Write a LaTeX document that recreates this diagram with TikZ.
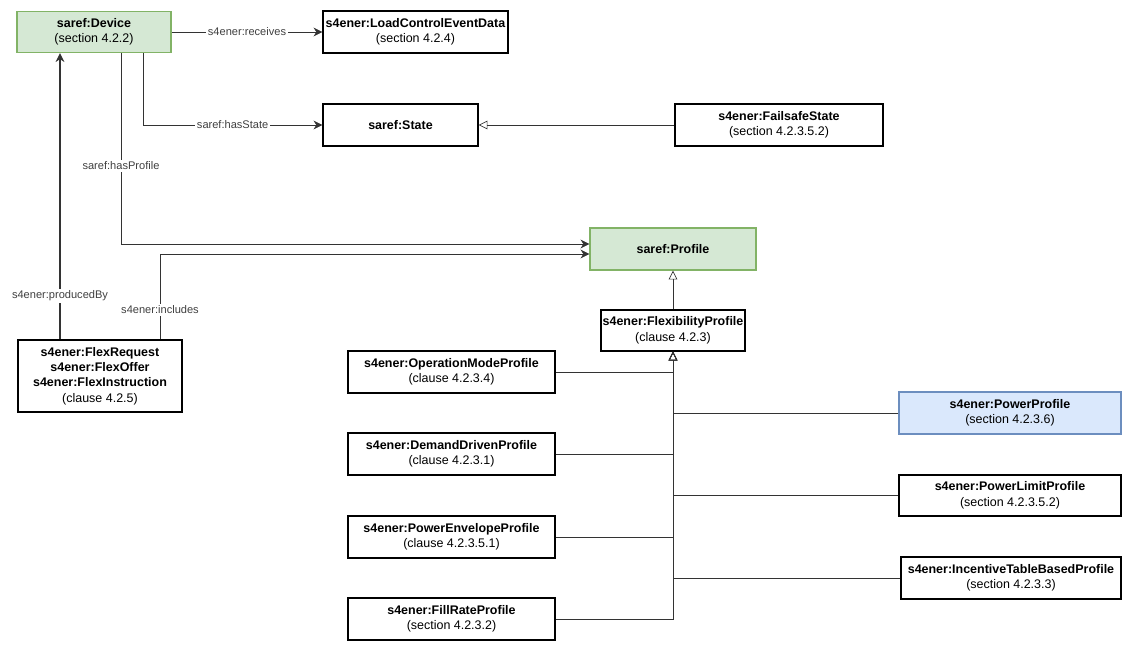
\documentclass[tikz,border=0pt]{standalone}
\usepackage{fontspec}
\setmainfont{Liberation Sans}
\usetikzlibrary{arrows.meta,positioning}
\definecolor{greenfill}{HTML}{D5E8D4}
\definecolor{greenline}{HTML}{82B366}
\definecolor{bluefill}{HTML}{DAE8FC}
\definecolor{blueline}{HTML}{6C8EBF}
\tikzset{
  cls/.style={draw, thick, fill=white, inner sep=1pt, align=center,
    font=\fontsize{7.1}{8.8}\selectfont},
  greencls/.style={cls, draw=greenline, fill=greenfill},
  bluecls/.style={cls, draw=blueline, fill=bluefill},
  assoc/.style={draw=black!80, -{Stealth[length=5pt,width=5pt]}},
  gen/.style={draw=black!80, -{Triangle[open,length=5pt,width=5pt]}},
  lbl/.style={fill=white, inner sep=1pt, text=black!75, font=\fontsize{6.3}{7.5}\selectfont},
}
\begin{document}
\begin{tikzpicture}[x=0.02cm,y=-0.02cm]
\useasboundingbox (0,0) rectangle (1134,652);

% classes
\node[greencls, minimum width=3.08cm, minimum height=0.82cm] (device) at (94,32) {\textbf{saref:Device}\\(section 4.2.2)};
\node[cls, minimum width=3.7cm, minimum height=0.84cm] (load) at (415.5,32) {\textbf{s4ener:LoadControlEventData}\\(section 4.2.4)};
\node[cls, minimum width=3.1cm, minimum height=0.84cm] (state) at (400.5,125) {\textbf{saref:State}};
\node[cls, minimum width=4.16cm, minimum height=0.84cm] (failsafe) at (779,125) {\textbf{s4ener:FailsafeState}\\(section 4.2.3.5.2)};
\node[greencls, minimum width=3.32cm, minimum height=0.84cm] (profile) at (673,249) {\textbf{saref:Profile}};
\node[cls, minimum width=2.84cm, minimum height=0.82cm] (flex) at (673,330.5) {\textbf{s4ener:FlexibilityProfile}\\(clause 4.2.3)};
\node[cls, minimum width=3.28cm, minimum height=1.44cm] (flexreq) at (100,376) {\textbf{s4ener:FlexRequest}\\\textbf{s4ener:FlexOffer}\\\textbf{s4ener:FlexInstruction}\\(clause 4.2.5)};

\node[cls, minimum width=4.14cm, minimum height=0.84cm] (opmode) at (451.5,372) {\textbf{s4ener:OperationModeProfile}\\(clause 4.2.3.4)};
\node[cls, minimum width=4.14cm, minimum height=0.84cm] (demand) at (451.5,454) {\textbf{s4ener:DemandDrivenProfile}\\(clause 4.2.3.1)};
\node[cls, minimum width=4.14cm, minimum height=0.84cm] (envelope) at (451.5,537) {\textbf{s4ener:PowerEnvelopeProfile}\\(clause 4.2.3.5.1)};
\node[cls, minimum width=4.14cm, minimum height=0.84cm] (fillrate) at (451.5,619) {\textbf{s4ener:FillRateProfile}\\(section 4.2.3.2)};

\node[bluecls, minimum width=4.44cm, minimum height=0.84cm] (power) at (1010,413) {\textbf{s4ener:PowerProfile}\\(section 4.2.3.6)};
\node[cls, minimum width=4.44cm, minimum height=0.82cm] (limit) at (1010,495.5) {\textbf{s4ener:PowerLimitProfile}\\(section 4.2.3.5.2)};
\node[cls, minimum width=4.4cm, minimum height=0.84cm] (incentive) at (1011,578) {\textbf{s4ener:IncentiveTableBasedProfile}\\(section 4.2.3.3)};

% associations
\draw[assoc] (device) -- node[lbl] {s4ener:receives} (load);
\draw[assoc] (device.south -| 143,0) |- node[lbl, pos=0.75] {saref:hasState} (state);
\draw[assoc] (device.south -| 121,0) |- ([yshift=0.1cm]profile.west);
\node[lbl] (hasprofile) at (121,166) {saref:hasProfile};
\draw[assoc] (flexreq.north -| 160,0) |- ([yshift=-0.1cm]profile.west);
\node[lbl] (includes) at (160,310) {s4ener:includes};
\draw[assoc, thick] (flexreq.north -| 60,0) -- (device.south -| 60,0);
\node[lbl] (producedby) at (60,296) {s4ener:producedBy};

% generalisations
\draw[gen] (failsafe) -- (state);
\draw[gen] (flex) -- (profile);
\foreach \sub in {opmode,demand,envelope,fillrate}
  \draw[gen] (\sub.east) -| (flex.south);
\foreach \sub in {power,limit,incentive}
  \draw[gen] (\sub.west) -| (flex.south);
\end{tikzpicture}
\end{document}
